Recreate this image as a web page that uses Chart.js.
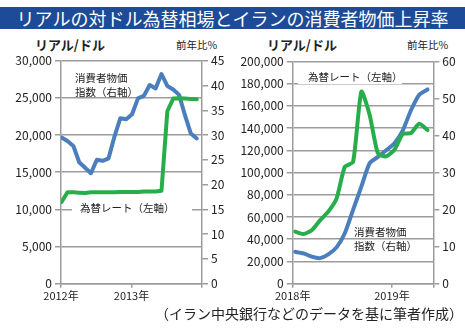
<!DOCTYPE html>
<html lang="ja">
<head>
<meta charset="utf-8">
<script src="https://cdn.jsdelivr.net/npm/chart.js@4/dist/chart.umd.min.js"></script>
<style>
  html, body { margin: 0; padding: 0; background: #fff; }
  body { width: 465px; height: 333px; position: relative; overflow: hidden;
         font-family: "Noto Sans CJK JP", sans-serif; color: #222; }
  .abs { position: absolute; white-space: nowrap; }
  #title { left: 0; top: 7px; width: 465px; height: 22px; line-height: 22px;
           background: #1d4b97; color: #fff; font-size: 18px; text-align: center; }
  .unit { font-size: 13px; font-weight: bold; line-height: 16px; }
  .pct { font-size: 10.5px; line-height: 14px; }
  .note { font-size: 10.5px; line-height: 14px; }
  .boxed { background: #fff; }
  #src { right: 2px; top: 304px; font-size: 14px; line-height: 18px; }
  canvas { position: absolute; }
</style>
</head>
<body>
<div id="title" class="abs">リアルの対ドル為替相場とイランの消費者物価上昇率</div>

<div class="abs unit" style="left:35px; top:37px;">リアル/ドル</div>
<div class="abs pct" style="left:176px; top:38px;">前年比%</div>
<div class="abs unit" style="left:267px; top:37px;">リアル/ドル</div>
<div class="abs pct" style="left:407px; top:38px;">前年比%</div>

<canvas id="leftChart" width="232" height="275" style="left:0; top:45px;"></canvas>
<canvas id="rightChart" width="233" height="275" style="left:232px; top:45px;"></canvas>

<div class="abs note" style="left:75px; top:71px;">消費者物価<br>指数（右軸）</div>
<div class="abs note boxed" style="left:72px; top:201px; width:112px; padding-left:8px;">為替レート（左軸）</div>
<div class="abs note boxed" style="left:298px; top:70px; width:94px; padding-left:10px;">為替レート（左軸）</div>
<div class="abs note" style="left:354px; top:225px;">消費者物価<br>指数（右軸）</div>

<div id="src" class="abs">（イラン中央銀行などのデータを基に筆者作成）</div>

<script>
// ---- data (left: 2012-2013, right: 2018-2019/6) ----
const leftYears = ["2012年", "2013年"];
const leftRate = [11000, 12300, 12300, 12250, 12200, 12300, 12300, 12300, 12300, 12300,
                  12350, 12350, 12350, 12350, 12400, 12400, 12400, 12500, 23200, 24900,
                  24950, 24900, 24850, 24800];
const leftCpi = [29.5, 28.8, 27.8, 24.5, 23.4, 22.3, 25.0, 24.8, 25.3, 29.7,
                 33.4, 33.2, 34.2, 37.4, 37.9, 40.1, 39.4, 42.3, 39.9, 39.2,
                 38.1, 34.0, 30.3, 29.3];

const rightYears = ["2018年", "2019年"];
const rightRate = [46800, 44700, 48000, 57000, 64800, 76500, 105000, 109500, 172700,
                   152000, 117300, 114500, 120500, 134500, 135500, 143800, 138200];
const rightCpi = [8.6, 8.2, 7.3, 6.9, 7.9, 9.8, 13.6, 19.9, 26.2, 32.5,
                  34.2, 36.0, 37.9, 41.3, 46.8, 51.0, 52.4];

const BLUE = "#4a7ebd";
const GREEN = "#27ae4a";
const GRID = "#9c9c9c";

Chart.defaults.font.family = '"Noto Sans CJK JP", sans-serif';
Chart.defaults.font.size = 12;
Chart.defaults.color = "#222";

function fmt(v) {
    return Number(v).toLocaleString("en-US");
}

// monthly points, placed a bit after the start of each month
function toPoints(values, shift) {
    return values.map((v, i) => ({ x: i + shift, y: v }));
}

function makeChart(canvas, o) {
    const months = o.months;
    return new Chart(canvas, {
        type: "line",
        data: {
            datasets: [
                {
                    label: "為替レート",
                    data: toPoints(o.rate, o.shift),
                    yAxisID: "y",
                    borderColor: GREEN,
                    borderWidth: 4,
                    tension: o.tension,
                    borderCapStyle: "round",
                    borderJoinStyle: "round",
                    pointRadius: 0
                },
                {
                    label: "消費者物価指数",
                    data: toPoints(o.cpi, o.shift),
                    yAxisID: "y1",
                    borderColor: BLUE,
                    borderWidth: 4,
                    tension: o.tension,
                    borderCapStyle: "round",
                    borderJoinStyle: "round",
                    pointRadius: 0
                }
            ]
        },
        options: {
            responsive: false,
            animation: false,
            events: [],
            layout: { padding: { top: o.padTop, left: 0, right: 0, bottom: 0 } },
            plugins: {
                legend: { display: false },
                tooltip: { enabled: false }
            },
            scales: {
                x: {
                    type: "linear",
                    position: "bottom",
                    min: 0,
                    max: months,
                    afterBuildTicks: (s) => {
                        s.ticks = [0, 12, months].map(v => ({ value: v }));
                    },
                    afterFit: (s) => { s.height = 36.3; },
                    ticks: {
                        autoSkip: false,
                        maxRotation: 0,
                        padding: 2,
                        font: { size: 11 },
                        callback: (v) => v === 0 ? o.years[0] : (v === 12 ? o.years[1] : "")
                    },
                    grid: { drawOnChartArea: false, tickLength: 4, color: GRID, lineWidth: 1.5 },
                    border: { color: GRID, width: 1.5 }
                },
                y: {
                    position: "left",
                    min: 0,
                    max: o.rateMax,
                    afterFit: (s) => { s.width = o.leftW; },
                    ticks: { stepSize: o.rateStep, padding: 3, callback: (v) => fmt(v) },
                    grid: { color: GRID, lineWidth: 1.5, tickLength: 6 },
                    border: { color: GRID, width: 1.5 }
                },
                y1: {
                    position: "right",
                    min: 0,
                    max: o.cpiMax,
                    afterFit: (s) => { s.width = o.rightW; },
                    ticks: { stepSize: o.cpiStep, padding: 3 },
                    grid: { drawOnChartArea: false, color: GRID, lineWidth: 1.5, tickLength: 6 },
                    border: { color: GRID, width: 1.5 }
                }
            }
        }
    });
}

document.addEventListener("DOMContentLoaded", function () {
    makeChart(document.getElementById("leftChart"), {
        rate: leftRate, cpi: leftCpi, years: leftYears,
        months: 24, shift: 0.1, tension: 0,
        rateMax: 30000, rateStep: 5000, cpiMax: 45, cpiStep: 5,
        leftW: 61, rightW: 30, padTop: 15.7
    });

    makeChart(document.getElementById("rightChart"), {
        rate: rightRate, cpi: rightCpi, years: rightYears,
        months: 17, shift: 0.3, tension: 0.2,
        rateMax: 200000, rateStep: 20000, cpiMax: 60, cpiStep: 10,
        leftW: 60.7, rightW: 31.7, padTop: 16.3
    });
});
</script>
</body>
</html>
